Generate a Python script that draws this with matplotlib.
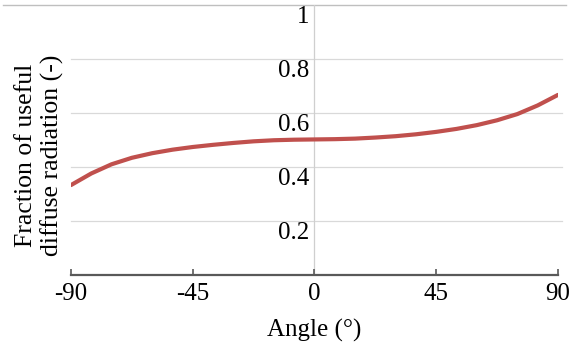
import matplotlib
matplotlib.use("Agg")
import matplotlib.pyplot as plt
import matplotlib.transforms as mtransforms

angles = [-90, -82.5, -75, -67.5, -60, -52.5, -45, -37.5, -30, -22.5, -15, -7.5, 0,
          7.5, 15, 22.5, 30, 37.5, 45, 52.5, 60, 67.5, 75, 82.5, 90]
fraction = [0.333, 0.376, 0.410, 0.434, 0.451, 0.464, 0.474, 0.482, 0.489, 0.495, 0.499, 0.501, 0.502,
            0.503, 0.505, 0.509, 0.514, 0.521, 0.530, 0.541, 0.555, 0.573, 0.596, 0.628, 0.667]
x_ticks = [-90, -45, 0, 45, 90]
y_ticks = [0.2, 0.4, 0.6, 0.8, 1.0]
y_tick_labels = ["0.2", "0.4", "0.6", "0.8", "1"]

plt.rcParams['font.family'] = ['Liberation Serif', 'DejaVu Serif']
fs = 18

fig = plt.figure(figsize=(5.81, 3.44), dpi=100)
ax = fig.add_axes([0.1222, 0.2006, 0.8382, 0.785])
ax.set_xlim(-90, 90)
ax.set_ylim(0, 1)

for v in y_ticks[:-1]:
    ax.plot([-90, 91.5], [v, v], color='#d9d9d9', lw=0.9, zorder=1, clip_on=False)
# top border line
ax.plot([-115, 93], [1, 1], color='#bfbfbf', lw=1.0, zorder=1, clip_on=False)
ax.axvline(0, color='#cfcfcf', lw=0.9, zorder=1)

ax.plot(angles, fraction, color='#c0504d', lw=3.0, solid_capstyle='round',
        solid_joinstyle='round', zorder=3)

for s in ['top', 'right', 'left']:
    ax.spines[s].set_visible(False)
ax.spines['bottom'].set_color('#595959')
ax.spines['bottom'].set_linewidth(1.6)
ax.set_yticks([])
ax.set_xticks(x_ticks)
ax.set_xticklabels([str(t) for t in x_ticks], fontsize=fs)
ax.tick_params(axis='x', direction='in', length=4, width=1.2, color='#595959', pad=6)

off = mtransforms.ScaledTranslation(-5/100, -12/100, fig.dpi_scale_trans)
for v, lab in zip(y_ticks, y_tick_labels):
    ax.text(0, v, lab, ha='right', va='center', fontsize=fs,
            transform=ax.transData + off)

ax.set_xlabel("Angle (°)", fontsize=fs, labelpad=10)
fig.text(0.068, 0.549, "Fraction of useful\ndiffuse radiation (-)", rotation=90,
         ha='center', va='center', fontsize=18.5, linespacing=1.25)

fig.savefig("out.png", dpi=100)
